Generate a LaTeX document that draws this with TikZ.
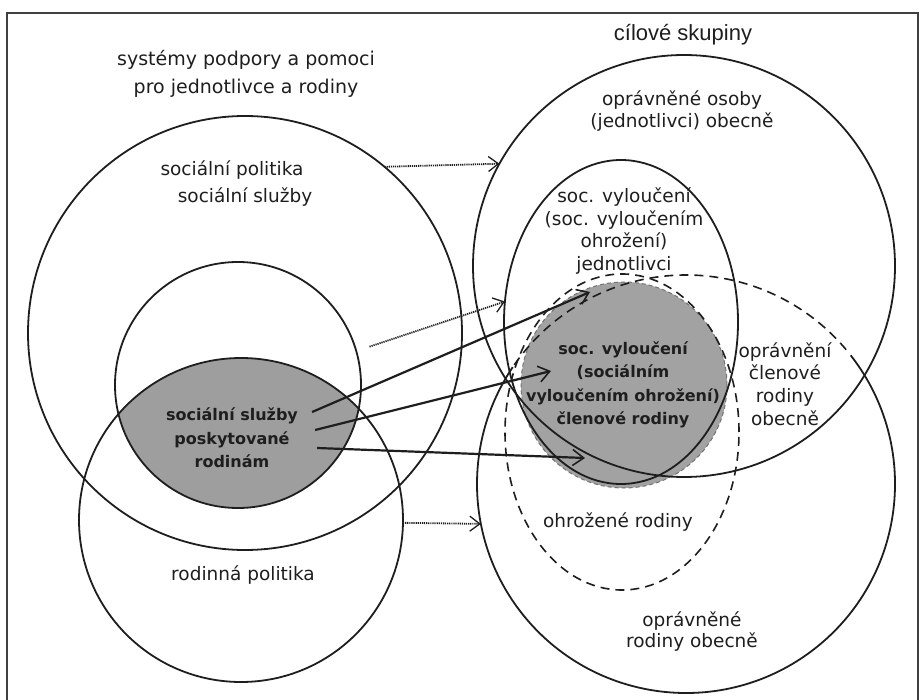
\documentclass[tikz,border=0pt]{standalone}
\usepackage{fontspec}
\setmainfont{DejaVu Sans}
\newfontfamily\headfont{Liberation Sans}
\usetikzlibrary{arrows.meta,shapes.geometric}
\definecolor{ink}{RGB}{30,30,30}
\definecolor{lensgray}{RGB}{158,158,158}
\definecolor{hgray}{RGB}{162,162,162}
\begin{document}
\begin{tikzpicture}[x=1pt,y=-1pt,
  ring/.style={circle, draw=ink, line width=1.8pt, inner sep=0pt, outer sep=0pt},
  oval/.style={ellipse, draw=ink, line width=1.8pt, inner sep=0pt, outer sep=0pt},
  ghost/.style={circle, inner sep=0pt, outer sep=0pt},
  dashring/.style={draw=ink, line width=1.6pt, dash pattern=on 9pt off 6pt},
  lbl/.style={text=ink, align=center, inner sep=0pt, font=\fontsize{18.5}{22.7}\selectfont},
  blbl/.style={text=ink, align=center, inner sep=0pt, font=\bfseries\fontsize{16}{23.4}\selectfont},
  dotarrow/.style={draw=ink, line width=1.8pt, dash pattern=on 1.2pt off 0.9pt,
    -{Straight Barb[length=10pt,width=15pt,line width=1.3pt]}},
  solarrow/.style={draw=ink, line width=2.2pt,
    -{Straight Barb[length=11pt,width=16pt,line width=1.6pt]}},
]
\useasboundingbox (0,0) rectangle (923,700);

% centres
\coordinate (cB) at (238,385);
\coordinate (cC) at (241,520);
\coordinate (cF) at (686,484);

% gray fills
\begin{scope}
  \clip (cB) circle[radius=123pt];
  \fill[lensgray] (cC) circle[radius=162pt];
\end{scope}
\node[circle, fill=hgray, draw=black!55, line width=1pt, dash pattern=on 4pt off 3pt,
  minimum size=206pt, inner sep=0pt] (H) at (624,385) {};

% frame
\draw[line width=2pt, black!75] (918,700) -- (918,13) -- (7,13) -- (7,700);

% left circles
\node[ring, minimum size=434pt] (A) at (245,333) {};
\node[ring, minimum size=246pt] (B) at (cB) {};
\node[ring, minimum size=324pt] (C) at (cC) {};

% right circles
\node[ring, minimum size=422pt] (D) at (684,266) {};
\node[oval, minimum width=234pt, minimum height=324pt] (E) at (621,322) {};
\node[ghost, minimum size=418pt] (F) at (cF) {};
\draw[ink, line width=1.8pt] (cF) ++(38:209pt) arc[start angle=38, end angle=-214, radius=209pt];
\draw[dashring] (cF) ++(40:209pt) arc[start angle=40, end angle=146, radius=209pt];
\node[ellipse, dashring, minimum width=234pt, minimum height=316pt, inner sep=0pt] (G) at (622,432) {};

% text
\node[lbl, font=\fontsize{19}{28}\selectfont] (sys) at (246,74) {systémy podpory a pomoci\\pro jednotlivce a rodiny};
\node[lbl] (sp1) at (232,170) {sociální politika};
\node[lbl] (sp2) at (245,197) {sociální služby};
\node[blbl] (L) at (232,438) {sociální služby\\poskytované\\rodinám};
\node[lbl] (rp) at (243,575) {rodinná politika};
\node[text=ink, inner sep=0pt, font=\headfont\fontsize{22}{26}\selectfont] (cs) at (683,35) {cílové skupiny};
\node[lbl, font=\fontsize{18.5}{22}\selectfont] (oo) at (682,111) {oprávněné osoby\\(jednotlivci) obecně};
\node[lbl] (sv) at (624,231) {soc. vyloučení\\(soc. vyloučením\\ohrožení)\\jednotlivci};
\node[blbl] (Ht) at (623,385) {soc. vyloučení\\(sociálním\\vyloučením ohrožení)\\členové rodiny};
\node[lbl] (ocr) at (785,384) {oprávnění\\členové\\rodiny\\obecně};
\node[lbl] (ohr) at (618,522) {ohrožené rodiny};
\node[lbl, font=\fontsize{18.5}{21}\selectfont] (orr) at (692,632) {oprávněné\\rodiny obecně};

% arrow end points inside H
\coordinate (h1) at (590,292);
\coordinate (h2) at (551,371);
\coordinate (h3) at (585,458);

% dotted arrows
\draw[dotarrow] (A.50) -- (D.151);
\draw[dotarrow, shorten <=14pt] (B.16) -- (E.170);
\draw[dotarrow] (C.-1) -- (F.191);

% solid arrows
\draw[solarrow] ([xshift=14pt,yshift=26pt]L.east) -- (h1);
\draw[solarrow] ([xshift=17pt,yshift=8pt]L.east) -- (h2);
\draw[solarrow] ([xshift=19pt,yshift=-10pt]L.east) -- (h3);
\end{tikzpicture}
\end{document}
